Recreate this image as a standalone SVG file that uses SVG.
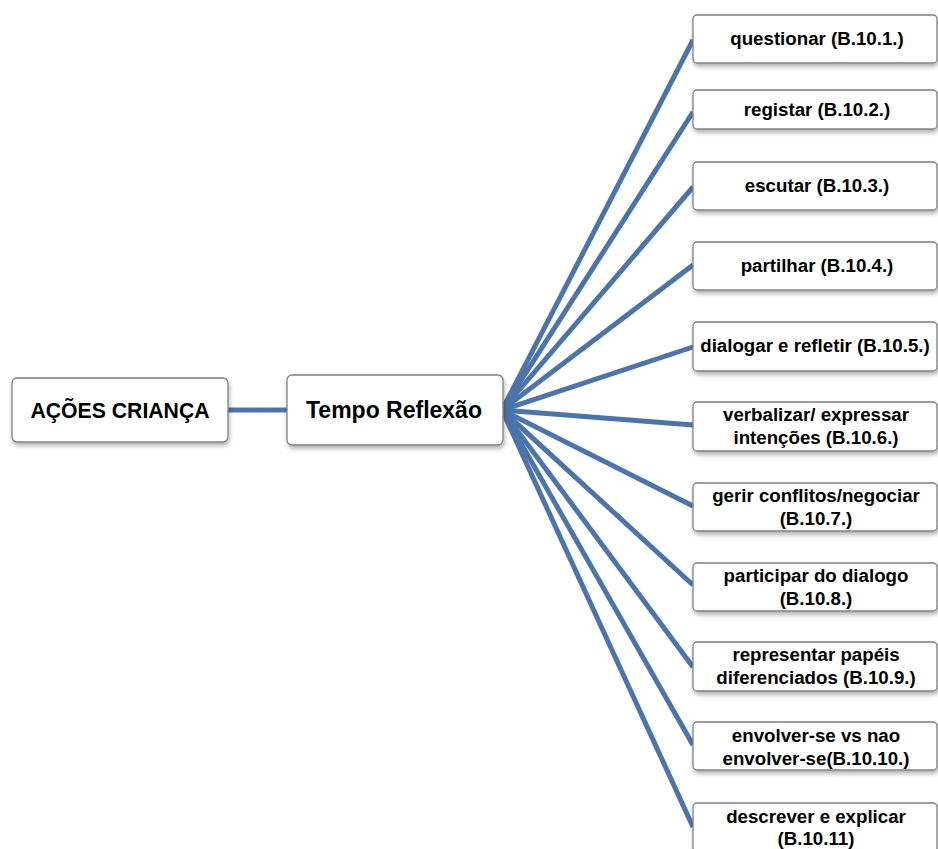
<svg xmlns="http://www.w3.org/2000/svg" width="938" height="849" viewBox="0 0 938 849">
  <defs>
    <filter id="shadow" x="-10%" y="-20%" width="120%" height="150%">
      <feDropShadow dx="1" dy="3" stdDeviation="2" flood-color="#000" flood-opacity="0.3"/>
    </filter>
  </defs>
  <style>
    .box { fill: #ffffff; stroke: #808080; stroke-width: 1.3; filter: url(#shadow); }
    .link { stroke: #4a74ab; stroke-width: 5; fill: none; stroke-linecap: butt; }
    .big { font-family: "Liberation Sans", Arial, sans-serif; font-weight: bold; font-size: 23px; fill: #000; text-anchor: middle; }
    .lbl { font-family: "Liberation Sans", Arial, sans-serif; font-weight: bold; font-size: 18.7px; fill: #000; text-anchor: middle; }
  </style>
  <rect width="938" height="849" fill="#ffffff"/>

  <!-- connectors -->
  <g id="connectors">
    <line class="link" x1="228" y1="410" x2="287" y2="410"/>
    <line class="link" x1="502" y1="410" x2="693" y2="40"/>
    <line class="link" x1="502" y1="410" x2="693" y2="112"/>
    <line class="link" x1="502" y1="410" x2="693" y2="187"/>
    <line class="link" x1="502" y1="410" x2="693" y2="265"/>
    <line class="link" x1="502" y1="410" x2="693" y2="347"/>
    <line class="link" x1="502" y1="410" x2="693" y2="425"/>
    <line class="link" x1="502" y1="410" x2="693" y2="506"/>
    <line class="link" x1="502" y1="410" x2="693" y2="585"/>
    <line class="link" x1="502" y1="410" x2="693" y2="667"/>
    <line class="link" x1="502" y1="410" x2="693" y2="745"/>
    <line class="link" x1="502" y1="410" x2="693" y2="827"/>
  </g>

  <!-- root and hub -->
  <g id="acoes-crianca">
    <rect class="box" x="12" y="378" width="216" height="64" rx="5"/>
    <text class="big" x="120" y="418" style="font-size:22px" textLength="179" lengthAdjust="spacingAndGlyphs">AÇÕES CRIANÇA</text>
  </g>
  <g id="tempo-reflexao">
    <rect class="box" x="287" y="375" width="216" height="70" rx="5"/>
    <text class="big" x="394" y="418">Tempo Reflexão</text>
  </g>

  <!-- leaf actions -->
  <g id="b10-1">
    <rect class="box" x="693" y="15" width="244" height="48" rx="4"/>
    <text class="lbl" x="817" y="45">questionar (B.10.1.)</text>
  </g>
  <g id="b10-2">
    <rect class="box" x="693" y="90" width="244" height="39" rx="4"/>
    <text class="lbl" x="817" y="116">registar (B.10.2.)</text>
  </g>
  <g id="b10-3">
    <rect class="box" x="693" y="162" width="244" height="48" rx="4"/>
    <text class="lbl" x="817" y="192">escutar (B.10.3.)</text>
  </g>
  <g id="b10-4">
    <rect class="box" x="693" y="242" width="244" height="48" rx="4"/>
    <text class="lbl" x="817" y="272">partilhar (B.10.4.)</text>
  </g>
  <g id="b10-5">
    <rect class="box" x="693" y="322" width="244" height="49" rx="4"/>
    <text class="lbl" x="815" y="352">dialogar e refletir (B.10.5.)</text>
  </g>
  <g id="b10-6">
    <rect class="box" x="693" y="402" width="244" height="49" rx="4"/>
    <text class="lbl" x="816" y="421">verbalizar/ expressar</text>
    <text class="lbl" x="816" y="444">intenções (B.10.6.)</text>
  </g>
  <g id="b10-7">
    <rect class="box" x="693" y="483" width="244" height="48" rx="4"/>
    <text class="lbl" x="816" y="502">gerir conflitos/negociar</text>
    <text class="lbl" x="816" y="525">(B.10.7.)</text>
  </g>
  <g id="b10-8">
    <rect class="box" x="693" y="563" width="244" height="48" rx="4"/>
    <text class="lbl" x="816" y="582">participar do dialogo</text>
    <text class="lbl" x="816" y="605">(B.10.8.)</text>
  </g>
  <g id="b10-9">
    <rect class="box" x="693" y="642" width="244" height="49" rx="4"/>
    <text class="lbl" x="816" y="661">representar papéis</text>
    <text class="lbl" x="816" y="684">diferenciados (B.10.9.)</text>
  </g>
  <g id="b10-10">
    <rect class="box" x="693" y="722" width="244" height="48" rx="4"/>
    <text class="lbl" x="816" y="742">envolver-se vs nao</text>
    <text class="lbl" x="816" y="765">envolver-se(B.10.10.)</text>
  </g>
  <g id="b10-11">
    <rect class="box" x="693" y="803" width="244" height="49" rx="4"/>
    <text class="lbl" x="816" y="823">descrever e explicar</text>
    <text class="lbl" x="816" y="845">(B.10.11)</text>
  </g>
</svg>
